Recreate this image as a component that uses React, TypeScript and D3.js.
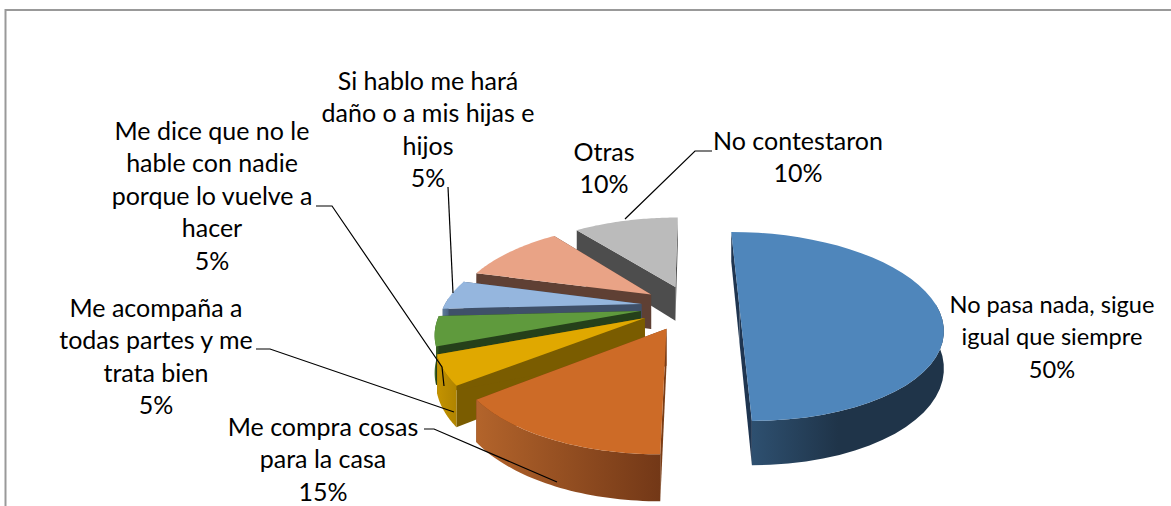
import React from "react";
import * as d3 from "d3";

const W = 1171, H = 506;
const categories = ["No pasa nada, sigue igual que siempre", "Me compra cosas para la casa", "Me acompaña a todas partes y me trata bien", "Me dice que no le hable con nadie porque lo vuelve a hacer", "Si hablo me hará daño o a mis hijas e hijos", "Otras", "No contestaron"];
const values = [50, 15, 5, 5, 5, 10, 10];
const topColors = ["#4f86bb", "#cd6b27", "#e0a800", "#5f9a3d", "#95b6de", "#e9a386", "#bbbbbb"];
const faceColors = ["#1f3550", "#7a3d16", "#7a5c00", "#25401a", "#3f5069", "#5f4034", "#4d4d4d"];
const wallLeft = ["#2e5070", "#b3642b", "#c49300", "#3f6a28", "#5d7a9a", "#9a6b58", "#808080"];
const wallRight = ["#1f3449", "#733817", "#b08400", "#2c4a1c", "#4a6280", "#7a5444", "#666666"];
const labelLines = [
  ["No pasa nada, sigue", "igual que siempre", "50%"],
  ["Me compra cosas", "para la casa", "15%"],
  ["Me acompaña a", "todas partes y me", "trata bien", "5%"],
  ["Me dice que no le", "hable con nadie", "porque lo vuelve a", "hacer", "5%"],
  ["Si hablo me hará", "daño o a mis hijas e", "hijos", "5%"],
  ["Otras", "10%"],
  ["No contestaron", "10%"],
];
const labelCenters: [number, number][] = [[1052, 305], [323, 428], [156, 309], [212, 132], [428, 82], [604, 153], [798, 142]];
const labelSizes = [23.6, 25, 25, 25, 25, 25, 25];
const leaders: [number, number][][] = [
  [],
  [[424, 429], [434, 429], [557, 482]],
  [[256, 349], [270, 349], [454, 412]],
  [[316, 206], [332, 206], [442, 367], [444, 386]],
  [[448, 187], [453, 293]],
  [],
  [[712, 151], [695, 151], [625, 219]],
];

const cx = 690, cy = 307.5, Rx = 198, Ry = 90.7, k = 0.2, explode = 0.25, depth = 35.5;
const viewSkew = (3 * Math.PI) / 180;
const project = (X: number, Z: number, down = 0): [number, number] => {
  const s = 1 / (1 + k * Z);
  return [cx + Rx * X * s, cy - Ry * Z * s + down * s];
};
const pieGen = d3.pie<number>().sort(null).value((d) => d);
const arcs = pieGen(values);
const line = d3.line();

function Slice({ a, i }: { a: d3.PieArcDatum<number>; i: number }) {
  const mid = (a.startAngle + a.endAngle) / 2;
  const ox = explode * Math.sin(mid), oz = explode * Math.cos(mid);
  const steps = d3.range(0, 41).map((t) => a.startAngle + (a.endAngle - a.startAngle) * t / 40);
  const rim = (ang0: number, d = 0) => {
    const ang = ang0 + viewSkew * Math.sin(ang0);
    return project(ox + Math.sin(ang), oz + Math.cos(ang), d);
  };
  const apex = project(ox, oz), apexB = project(ox, oz, depth);
  const topArc = steps.map((t) => rim(t));
  const face = (ang: number) => [apex, rim(ang), rim(ang, depth), apexB] as [number, number][];
  const front = steps.filter((t) => Math.cos(t) < 0.12);
  const wall = [...front.map((t) => rim(t)), ...front.slice().reverse().map((t) => rim(t, depth))];
  return (
    <g>
      <defs>
        <linearGradient id={`w${i}`} x1="0" x2="1" y1="0" y2="0">
          <stop offset="0" stopColor={wallLeft[i]} />
          <stop offset={i === 0 ? 0.45 : 1} stopColor={wallRight[i]} />
        </linearGradient>
      </defs>
      <path d={line(face(a.startAngle)) + "Z"} fill={faceColors[i]} />
      <path d={line(face(a.endAngle)) + "Z"} fill={faceColors[i]} />
      {wall.length > 0 && <path d={line(wall) + "Z"} fill={`url(#w${i})`} />}
      <path d={line([apex, ...topArc]) + "Z"} fill={topColors[i]} />
    </g>
  );
}

export default function App() {
  const order = arcs.map((a, i) => ({ a, i })).sort((p, q) => {
    const zp = Math.cos((p.a.startAngle + p.a.endAngle) / 2);
    const zq = Math.cos((q.a.startAngle + q.a.endAngle) / 2);
    return zq - zp;
  });
  return (
    <svg width={W} height={H} viewBox={`0 0 ${W} ${H}`} style={{ position: "absolute", left: 0, top: 0, background: "#fff" }}>
      <path d={`M5.5 ${H}V10H${W}`} fill="none" stroke="#999" strokeWidth={2} />
      {order.map(({ a, i }) => <Slice key={i} a={a} i={i} />)}
      {leaders.map((l, i) => l.length > 0 && <path key={i} d={line(l) ?? ""} fill="none" stroke="#000" strokeWidth={1.2} />)}
      {labelLines.map((ls, i) => (
        <text key={categories[i]} x={labelCenters[i][0]} y={labelCenters[i][1]} textAnchor="middle" fontFamily="Lato" fontSize={labelSizes[i]} fill="#000">
          {ls.map((t, j) => <tspan key={j} x={labelCenters[i][0]} dy={j === 0 ? 8 : 32.4}>{t}</tspan>)}
        </text>
      ))}
    </svg>
  );
}
